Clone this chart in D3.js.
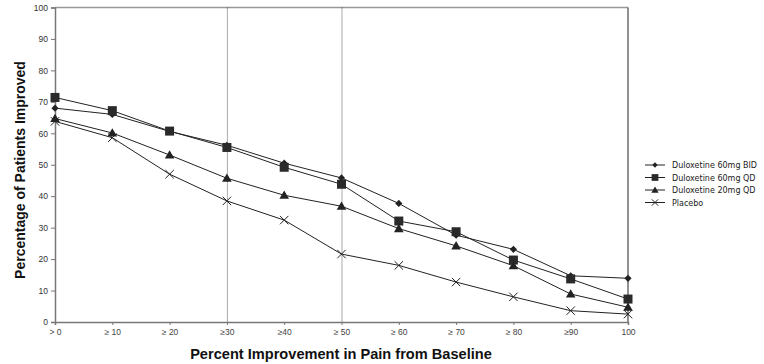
<!DOCTYPE html>
<html><head><meta charset="utf-8">
<script src="https://cdn.jsdelivr.net/npm/d3@7"></script>
<style>body{margin:0;background:#fff}svg{display:block}</style>
</head><body>
<svg id="chart" width="764" height="364"></svg>
<script>
const categories = ["> 0","\u2265 10","\u2265 20","\u226530","\u226540","\u2265 50","\u2265 60","\u2265 70","\u2265 80","\u226590","100"];
const yTicks = [0,10,20,30,40,50,60,70,80,90,100];
const seriesNames = ["Duloxetine 60mg BID","Duloxetine 60mg QD","Duloxetine 20mg QD","Placebo"];
const bid60 = [68.0,66.0,60.6,56.2,50.5,45.8,37.7,27.6,23.1,14.7,13.9];
const qd60  = [71.4,67.2,60.7,55.5,49.2,43.8,32.1,28.7,19.7,13.7,7.3];
const qd20  = [64.7,60.1,53.1,45.7,40.3,36.8,29.7,24.2,17.9,8.9,4.7];
const placebo = [63.8,58.6,47.0,38.5,32.4,21.6,18.0,12.7,8.0,3.6,2.5];
const refLines = ["\u226530","\u2265 50"];

const series = [
  {name:seriesNames[0], values:bid60, sym:"diamond"},
  {name:seriesNames[1], values:qd60, sym:"square"},
  {name:seriesNames[2], values:qd20, sym:"triangle"},
  {name:seriesNames[3], values:placebo, sym:"x"}
];

const svg = d3.select("#chart");
const pL=55, pR=628, pT=7.5, pB=322;
const x = d3.scalePoint().domain(categories).range([pL,pR]).padding(0);
const y = d3.scaleLinear().domain([0,100]).range([pB,pT]);
const axisColor="#777";

// frame top/right
svg.append("line").attr("x1",pL).attr("x2",pR).attr("y1",pT).attr("y2",pT).attr("stroke","#999").attr("stroke-width",1.3);
svg.append("line").attr("x1",pR).attr("x2",pR).attr("y1",pT).attr("y2",pB).attr("stroke","#555").attr("stroke-width",1.3);

// reference dotted lines
refLines.forEach(c=>{
  svg.append("line").attr("x1",x(c)+0.5).attr("x2",x(c)+0.5).attr("y1",pT).attr("y2",pB)
    .attr("stroke","#555").attr("stroke-width",1).attr("stroke-dasharray","1,1");
});

// y axis
const ya = svg.append("g").attr("transform",`translate(${pL},0)`)
  .call(d3.axisLeft(y).tickValues(yTicks).tickSize(4).tickPadding(3));
ya.select(".domain").attr("stroke",axisColor).attr("stroke-width",1.5);
ya.selectAll(".tick line").attr("stroke",axisColor);
ya.selectAll("text").attr("font-family","Liberation Sans, Arial, sans-serif").attr("font-size",8.5).attr("fill","#333");

// x axis
const xa = svg.append("g").attr("transform",`translate(0,${pB})`)
  .call(d3.axisBottom(x).tickSize(3).tickPadding(4));
xa.select(".domain").attr("stroke",axisColor).attr("stroke-width",1.5);
xa.selectAll(".tick line").attr("stroke",axisColor);
xa.selectAll("text").attr("font-family","Liberation Sans, Arial, sans-serif").attr("font-size",8.5).attr("fill","#444");

// lines
const line = d3.line().x((d,i)=>x(categories[i])).y(d=>y(d));
series.forEach(s=>{
  svg.append("path").datum(s.values).attr("d",line).attr("fill","none").attr("stroke","#222").attr("stroke-width",1);
});

function drawSym(g, sym, cx, cy, scale){
  scale = scale||1;
  if(sym==="diamond"){
    const r=3.6*scale;
    g.append("path").attr("d",`M${cx},${cy-r}L${cx+r},${cy}L${cx},${cy+r}L${cx-r},${cy}Z`).attr("fill","#222");
  } else if(sym==="square"){
    const r=4.5*scale;
    g.append("rect").attr("x",cx-r).attr("y",cy-r).attr("width",2*r).attr("height",2*r).attr("fill","#2a2a2a");
  } else if(sym==="triangle"){
    const r=4.8*scale;
    g.append("path").attr("d",`M${cx},${cy-r}L${cx+r},${cy+r*0.75}L${cx-r},${cy+r*0.75}Z`).attr("fill","#222");
  } else {
    const r=4.2*scale;
    g.append("path").attr("d",`M${cx-r},${cy-r}L${cx+r},${cy+r}M${cx-r},${cy+r}L${cx+r},${cy-r}`).attr("stroke","#222").attr("stroke-width",1).attr("fill","none");
  }
}
series.forEach(s=>{
  const g=svg.append("g");
  s.values.forEach((v,i)=>drawSym(g,s.sym,x(categories[i]),y(v)));
});

// legend
const lg = svg.append("g");
series.forEach((s,i)=>{
  const ly = 165 + i*12.5;
  lg.append("line").attr("x1",645).attr("x2",665).attr("y1",ly).attr("y2",ly).attr("stroke","#222").attr("stroke-width",1);
  drawSym(lg,s.sym,655,ly,0.75);
  lg.append("text").attr("x",672).attr("y",ly+3).text(s.name)
    .attr("font-family","DejaVu Sans, sans-serif").attr("font-size",8).attr("fill","#222");
});

// titles
svg.append("text").attr("x",341).attr("y",359).attr("text-anchor","middle")
  .attr("font-family","Liberation Sans, Arial, sans-serif").attr("font-weight","bold").attr("font-size",14.6).attr("fill","#111")
  .text("Percent Improvement in Pain from Baseline");
svg.append("text").attr("transform","translate(25,170) rotate(-90)").attr("text-anchor","middle")
  .attr("font-family","Liberation Sans, Arial, sans-serif").attr("font-weight","bold").attr("font-size",14).attr("fill","#111")
  .text("Percentage of Patients Improved");
</script>
</body></html>
